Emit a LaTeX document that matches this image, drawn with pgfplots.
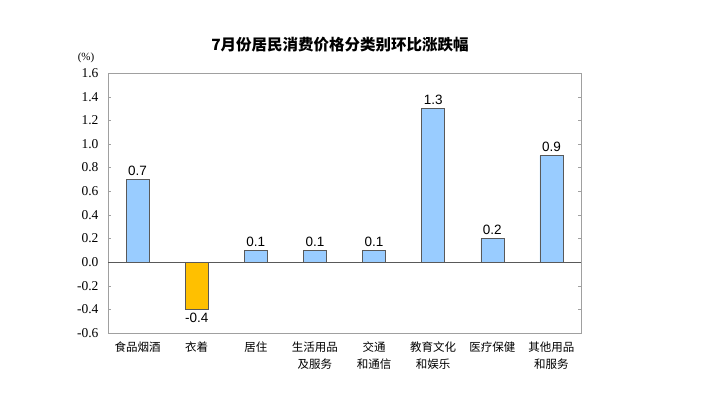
\documentclass[border=0pt]{standalone}
\usepackage{pgfplots}
\pgfplotsset{compat=1.18}
\usepackage{fontspec}
\setmainfont{Liberation Serif}
\newfontfamily\cjk{Noto Sans CJK SC}
\newfontfamily\arial{Liberation Sans}
\definecolor{barblue}{HTML}{99CCFF}
\definecolor{barorange}{HTML}{FFC000}
\definecolor{framegray}{HTML}{A0A0A0}
\definecolor{edgegray}{HTML}{595959}
\begin{document}
\begin{tikzpicture}[x=1pt,y=1pt]
\path[use as bounding box] (0pt,0pt) rectangle (712pt,392pt);
\begin{axis}[
  at={(108pt,59pt)}, anchor=south west,
  width=473pt, height=260pt, scale only axis,
  xmin=-0.5, xmax=7.5, ymin=-0.6, ymax=1.6,
  ytick={-0.6,-0.4,...,1.61},
  yticklabel style={/pgf/number format/fixed, /pgf/number format/fixed zerofill, /pgf/number format/precision=1, /pgf/number format/assume math mode=true, font=\fontsize{13.5}{14}\selectfont, xshift=-6pt},
  xtick={0,...,7},
  xticklabels={食品烟酒,衣着,居住,生活用品\\及服务,交通\\和通信,教育文化\\和娱乐,医疗保健,其他用品\\和服务},
  xticklabel style={font=\cjk\fontsize{11.5}{17}\selectfont, align=center, anchor=north, yshift=-2pt},
  major x tick style={draw=none},
  ytick style={framegray},
  tick align=inside,
  major tick length=3pt,
  axis line style={framegray, line width=1pt},
  ybar, bar width=23pt,
  every axis plot/.append style={bar shift=0pt},
  nodes near coords,
  nodes near coords style={font=\arial\fontsize{13.5}{14}\selectfont, /pgf/number format/fixed, /pgf/number format/precision=1, /pgf/number format/assume math mode=true},
  clip=false,
]
\addplot[fill=barblue, draw=edgegray, line width=0.6pt] coordinates {(0,0.7) (2,0.1) (3,0.1) (4,0.1) (5,1.3) (6,0.2) (7,0.9)};
\addplot[fill=barorange, draw=edgegray, line width=0.6pt] coordinates {(1,-0.4)};
\addplot[sharp plot, draw=edgegray, line width=0.8pt, nodes near coords={}, forget plot] coordinates {(-0.5,0) (7.5,0)};
\end{axis}
\node[font=\cjk\bfseries\fontsize{15.5}{17}\selectfont] at (340pt,347pt) {7月份居民消费价格分类别环比涨跌幅};
\node[font=\fontsize{11}{12}\selectfont] at (86pt,334pt) {(\%)};
\end{tikzpicture}
\end{document}
